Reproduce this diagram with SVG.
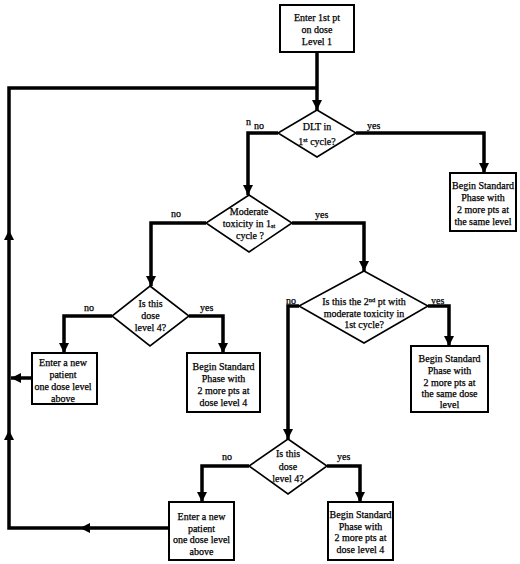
<svg xmlns="http://www.w3.org/2000/svg" width="520" height="564" viewBox="0 0 520 564">
<style>
.box{fill:#fff;stroke:#000;stroke-width:2}
.dia{fill:#fff;stroke:#000;stroke-width:1.6}
.t{font-family:"Liberation Serif","Times New Roman",serif;font-size:10px;fill:#000;stroke:#000;stroke-width:0.25;text-anchor:middle}
.l{font-family:"Liberation Serif","Times New Roman",serif;font-size:10px;fill:#000;stroke:#000;stroke-width:0.25}
.c{fill:none;stroke:#000;stroke-width:3.5}
</style>
<defs>
<marker id="ah" markerUnits="userSpaceOnUse" markerWidth="10" markerHeight="10" refX="10" refY="5" orient="auto" viewBox="0 0 10 10">
<path d="M0,0 L10,5 L0,10 z" fill="#000"/>
</marker>
</defs>
<rect width="520" height="564" fill="#fff"/>
<g id="connectors">
<path class="c" d="M317,52 V110" marker-end="url(#ah)"/>
<path class="c" d="M169,528 H80" marker-end="url(#ah)"/>
<path class="c" d="M80,528 H9 V430" marker-end="url(#ah)"/>
<path class="c" d="M9,430 V230" marker-end="url(#ah)"/>
<path class="c" d="M9,230 V88 H317"/>
<path class="c" d="M32,378 H11" marker-end="url(#ah)"/>
<path class="c" d="M278,133 H248 V195" marker-end="url(#ah)"/>
<path class="c" d="M356,133 H484 V173" marker-end="url(#ah)"/>
<path class="c" d="M206,223 H151 V286" marker-end="url(#ah)"/>
<path class="c" d="M292,223 H364 V271" marker-end="url(#ah)"/>
<path class="c" d="M112,316 H64 V353" marker-end="url(#ah)"/>
<path class="c" d="M189,316 H223 V353" marker-end="url(#ah)"/>
<path class="c" d="M299,306 H288 V439" marker-end="url(#ah)"/>
<path class="c" d="M428,306 H449 V346" marker-end="url(#ah)"/>
<path class="c" d="M249,466 H202 V502" marker-end="url(#ah)"/>
<path class="c" d="M327,466 H360 V502" marker-end="url(#ah)"/>
<text class="l" x="246" y="125" font-size="9">n</text>
<text class="l" x="254" y="129">no</text>
<text class="l" x="367" y="129">yes</text>
<text class="l" x="171" y="217">no</text>
<text class="l" x="315" y="218">yes</text>
<text class="l" x="84" y="311">no</text>
<text class="l" x="200" y="311">yes</text>
<text class="l" x="286" y="304">no</text>
<text class="l" x="431" y="304">yes</text>
<text class="l" x="222" y="460">no</text>
<text class="l" x="337" y="460">yes</text>
</g>
<g id="start">
<rect class="box" x="280" y="5" width="74" height="47"/>
<text class="t" x="317" y="20.5">Enter 1st pt</text>
<text class="t" x="317" y="32.5">on dose</text>
<text class="t" x="317" y="45">Level 1</text>
</g>
<g id="dlt">
<polygon class="dia" points="317,110 356,133 317,157 278,133"/>
<text class="t" x="317" y="130">DLT in</text>
<text class="t" x="317" y="144.5">1<tspan font-size="6.5" dy="-3">st</tspan><tspan dy="3"> cycle?</tspan></text>
</g>
<g id="std1">
<rect class="box" x="450" y="173" width="66" height="58"/>
<text class="t" x="483" y="188.5">Begin Standard</text>
<text class="t" x="483" y="200.5">Phase with</text>
<text class="t" x="483" y="213">2 more pts at</text>
<text class="t" x="483" y="224.5">the same level</text>
</g>
<g id="moderate">
<polygon class="dia" points="249,195 292,223 249,252 206,223"/>
<text class="t" x="249" y="214.5">Moderate</text>
<text class="t" x="249" y="226.5">toxicity in 1<tspan font-size="6.5" dy="1">st</tspan></text>
<text class="t" x="250" y="238.5">cycle ?</text>
</g>
<g id="level4a">
<polygon class="dia" points="150,286 189,316 150,346 112,316"/>
<text class="t" x="150.5" y="306.5">Is this</text>
<text class="t" x="150.5" y="318.5">dose</text>
<text class="t" x="150.5" y="330.5">level 4?</text>
</g>
<g id="enter1">
<rect class="box" x="32" y="353" width="65" height="51"/>
<text class="t" x="63" y="366">Enter a new</text>
<text class="t" x="63" y="378">patient</text>
<text class="t" x="63" y="390">one dose level</text>
<text class="t" x="63" y="401.5">above</text>
</g>
<g id="std2">
<rect class="box" x="187" y="353" width="73" height="59"/>
<text class="t" x="223.5" y="369.5">Begin Standard</text>
<text class="t" x="223.5" y="381.5">Phase with</text>
<text class="t" x="223.5" y="393.5">2 more pts at</text>
<text class="t" x="223.5" y="405.5">dose level 4</text>
</g>
<g id="second">
<polygon class="dia" points="364,271 428,306 364,343 299,306"/>
<text class="t" x="364" y="305">Is this the 2<tspan font-size="6.5" dy="-3">nd</tspan><tspan dy="3"> pt with</tspan></text>
<text class="t" x="364" y="316.5">moderate toxicity in</text>
<text class="t" x="364" y="327.5">1st cycle?</text>
</g>
<g id="std3">
<rect class="box" x="411" y="346" width="77" height="66"/>
<text class="t" x="449.5" y="361.5">Begin Standard</text>
<text class="t" x="449.5" y="373.5">Phase with</text>
<text class="t" x="449.5" y="385.5">2 more pts at</text>
<text class="t" x="449.5" y="397">the same dose</text>
<text class="t" x="449.5" y="408">level</text>
</g>
<g id="level4b">
<polygon class="dia" points="288,439 327,466 288,494 249,466"/>
<text class="t" x="288" y="456.5">Is this</text>
<text class="t" x="288" y="469.5">dose</text>
<text class="t" x="288" y="481.5">level 4?</text>
</g>
<g id="enter2">
<rect class="box" x="169" y="502" width="65" height="58"/>
<text class="t" x="201.5" y="519.5">Enter a new</text>
<text class="t" x="201.5" y="531.5">patient</text>
<text class="t" x="201.5" y="543">one dose level</text>
<text class="t" x="201.5" y="554.5">above</text>
</g>
<g id="std4">
<rect class="box" x="328" y="502" width="65" height="58"/>
<text class="t" x="360.5" y="517.5">Begin Standard</text>
<text class="t" x="360.5" y="529.5">Phase with</text>
<text class="t" x="360.5" y="541">2 more pts at</text>
<text class="t" x="360.5" y="552.5">dose level 4</text>
</g>
</svg>
